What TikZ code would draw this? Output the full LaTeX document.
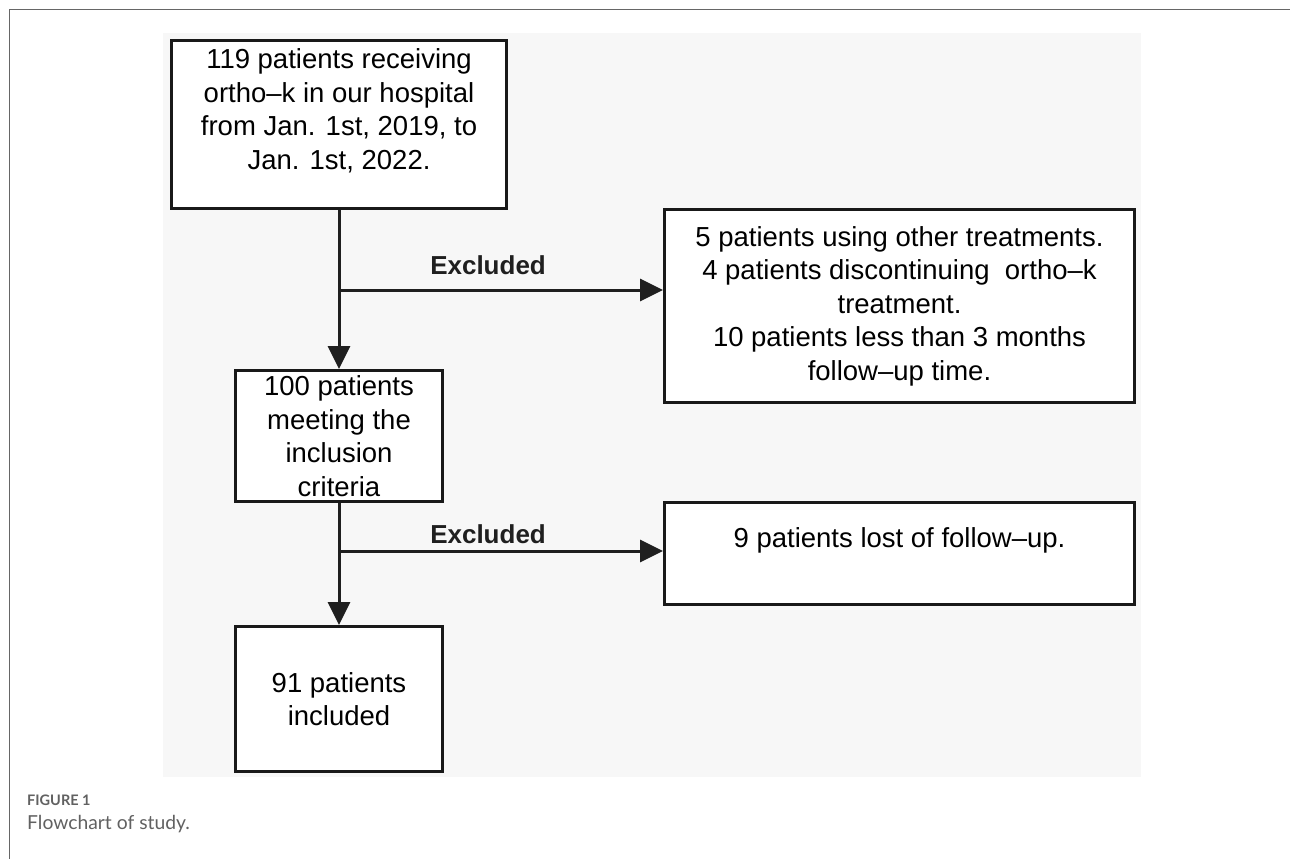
\documentclass[tikz,border=0pt]{standalone}
\usepackage{fontspec}
\setmainfont{Liberation Sans}
\newfontfamily\capfont{Lato}
\usetikzlibrary{arrows.meta,positioning}

\begin{document}
\begin{tikzpicture}[x=1pt,y=-1pt]

\tikzstyle{box}=[draw=black!90, line width=3pt, fill=white, align=center, inner sep=0pt, font=\fontsize{27.5}{33.5}\selectfont]
\tikzstyle{edge}=[-{Triangle[length=23pt,width=22pt]}, line width=3pt, draw=black!88, fill=black!88]
\tikzstyle{excl}=[font=\fontsize{26}{30}\selectfont\bfseries, inner sep=0pt, text=black!88]
\tikzstyle{caption}=[anchor=base west, inner sep=0pt, text=black!62]

\useasboundingbox (0,0) rectangle (1290,859);
\fill[black!3] (163,33) rectangle (1141,777);
\draw[black!60, line width=1pt] (9.5,859) -- (9.5,9.5) -- (1290,9.5);

\node[box, minimum width=335pt, minimum height=168pt, text depth=31pt] (start) at (339,124.5)
  {119 patients receiving\\ortho–k in our hospital\\from Jan. 1st, 2019, to\\Jan. 1st, 2022.};
\node[box, minimum width=470pt, minimum height=193pt] (other) at (899.5,306)
  {5 patients using other treatments.\\4 patients discontinuing\ \ ortho–k\\treatment.\\10 patients less than 3 months\\follow–up time.};
\node[box, minimum width=207pt, minimum height=131pt] (meet) at (339,436)
  {100 patients\\meeting the\\inclusion\\criteria};
\node[box, minimum width=470pt, minimum height=102pt, text depth=32pt] (lost) at (899.5,553.5)
  {9 patients lost of follow–up.};
\node[box, minimum width=207pt, minimum height=145pt] (incl) at (339,699)
  {91 patients\\included};

\coordinate (split1) at (339,290);
\coordinate (split2) at (339,551);

\draw[edge] (start) -- (meet);
\draw[edge] (split1) -- node[excl, above=14pt, pos=0.46] {Excluded} (split1 -| other.west);
\draw[edge] (meet) -- (incl);
\draw[edge] (split2) -- node[excl, above=6pt, pos=0.46] {Excluded} (split2 -| lost.west);

\node[caption, font=\capfont\fontsize{14.5}{17}\selectfont\bfseries] (figno) at (27,805) {FIGURE 1};
\node[caption, font=\capfont\fontsize{19.3}{22}\selectfont] (figcap) at (27,829) {Flowchart of study.};

\end{tikzpicture}
\end{document}
